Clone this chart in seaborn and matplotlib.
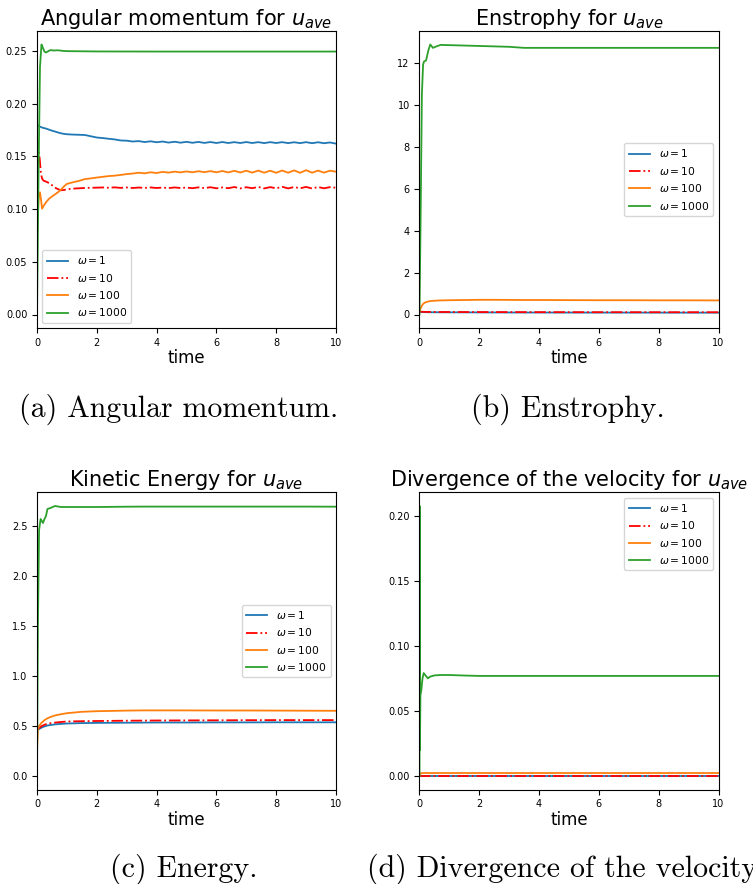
import matplotlib
matplotlib.use('Agg')
import matplotlib.pyplot as plt
import seaborn as sns

# ---- data ----
labels = [r'$\omega = 1$', r'$\omega = 10$', r'$\omega = 100$', r'$\omega = 1000$']
colors = ['tab:blue', 'red', 'tab:orange', 'tab:green']
styles = ['-', '-.', '-', '-']

# shared late time grid for the angular momentum panel
t_late = [1.0, 1.2, 1.4, 1.6, 1.8, 2.0, 2.2, 2.4, 2.6, 2.8,
          3.0, 3.2, 3.4, 3.6, 3.8, 4.0, 4.2, 4.4, 4.6, 4.8,
          5.0, 5.2, 5.4, 5.6, 5.8, 6.0, 6.2, 6.4, 6.6, 6.8,
          7.0, 7.2, 7.4, 7.6, 7.8, 8.0, 8.2, 8.4, 8.6, 8.8,
          9.0, 9.2, 9.4, 9.6, 9.8, 10.0]

# (a) angular momentum
t_a_blue = [0.0, 0.1, 0.2, 0.3, 0.4, 0.5, 0.6, 0.7, 0.8, 0.9]
am_blue = [0.1800, 0.1783, 0.1772, 0.1765, 0.1755, 0.1745, 0.1737, 0.1728, 0.1720, 0.1715,
           0.1711, 0.1708, 0.1706, 0.1704, 0.1692, 0.1680, 0.1675, 0.1668, 0.1662, 0.1652,
           0.1650, 0.1642, 0.1646, 0.1637, 0.1644, 0.1635, 0.1642, 0.1632, 0.1640, 0.1631,
           0.1639, 0.1630, 0.1638, 0.1629, 0.1637, 0.1628, 0.1637, 0.1628, 0.1636, 0.1628,
           0.1637, 0.1628, 0.1636, 0.1627, 0.1636, 0.1628, 0.1636, 0.1627, 0.1635, 0.1627,
           0.1636, 0.1626, 0.1635, 0.1626, 0.1633, 0.1622]
t_a_red = [0.0, 0.02, 0.05, 0.09, 0.13, 0.17, 0.22, 0.3, 0.4, 0.5, 0.6, 0.7, 0.8, 0.9]
am_red = [0.168, 0.164, 0.156, 0.148, 0.134, 0.129, 0.127, 0.1262, 0.1248, 0.1228,
          0.1205, 0.1190, 0.1179, 0.1182,
          0.1188, 0.1195, 0.1198, 0.1201, 0.1203, 0.1204, 0.1206, 0.1203, 0.1207, 0.1202,
          0.1206, 0.1201, 0.1205, 0.1202, 0.1206, 0.1201, 0.1205, 0.1200, 0.1206, 0.1201,
          0.1205, 0.1199, 0.1207, 0.1200, 0.1208, 0.1198, 0.1206, 0.1199, 0.1210, 0.1197,
          0.1208, 0.1199, 0.1211, 0.1197, 0.1209, 0.1198, 0.1212, 0.1197, 0.1210, 0.1198,
          0.1211, 0.1196, 0.1210, 0.1198, 0.1209, 0.1203]
t_a_orange = [0.0, 0.03, 0.06, 0.1, 0.13, 0.17, 0.22, 0.3, 0.4, 0.5, 0.6, 0.7, 0.8, 0.9]
am_orange = [0.077, 0.095, 0.112, 0.116, 0.110, 0.1005, 0.1030, 0.1065, 0.1098, 0.1120,
             0.1140, 0.1160, 0.1185, 0.1215,
             0.1240, 0.1255, 0.1268, 0.1285, 0.1292, 0.1300, 0.1307, 0.1314, 0.1318, 0.1325,
             0.1333, 0.1338, 0.1346, 0.1340, 0.1350, 0.1343, 0.1354, 0.1347, 0.1356, 0.1349,
             0.1358, 0.1350, 0.1360, 0.1351, 0.1361, 0.1350, 0.1362, 0.1349, 0.1364, 0.1348,
             0.1365, 0.1347, 0.1366, 0.1346, 0.1365, 0.1345, 0.1367, 0.1346, 0.1368, 0.1345,
             0.1370, 0.1346, 0.1366, 0.1347, 0.1365, 0.1356]
t_a_green = [0.0, 0.05, 0.1, 0.15, 0.2, 0.25, 0.3, 0.38, 0.45, 0.55, 0.7, 0.85,
             1.0, 2.0, 4.0, 6.0, 8.0, 10.0]
am_green = [0.0, 0.13, 0.235, 0.2563, 0.2530, 0.2495, 0.2487, 0.2500, 0.2510, 0.2506, 0.2508, 0.2503,
            0.2500, 0.2497, 0.2496, 0.2496, 0.2496, 0.2496]

# (b) enstrophy
t_b = [0, 0.04, 0.08, 0.12, 0.15, 0.22, 0.3, 0.36, 0.45, 0.55, 0.7, 1.0,
       1.5, 2.0, 2.5, 3.0, 3.5, 4.0, 5.0, 6.0, 7.0, 8.0, 9.0, 10.0]
ens_blue = [0.13, 0.125, 0.12, 0.115, 0.112, 0.11, 0.108, 0.107, 0.106, 0.105, 0.104, 0.103,
            0.101, 0.099, 0.097, 0.095, 0.094, 0.093, 0.092, 0.091, 0.090, 0.089, 0.088, 0.087]
ens_red = [0.14, 0.135, 0.13, 0.127, 0.125, 0.123, 0.122, 0.121, 0.12, 0.12, 0.119, 0.118,
           0.117, 0.116, 0.115, 0.114, 0.113, 0.112, 0.111, 0.110, 0.110, 0.109, 0.109, 0.108]
ens_orange = [0.15, 0.30, 0.42, 0.50, 0.54, 0.59, 0.62, 0.64, 0.65, 0.66, 0.67, 0.68,
              0.69, 0.70, 0.70, 0.695, 0.69, 0.69, 0.685, 0.68, 0.68, 0.675, 0.675, 0.67]
ens_green = [0.0, 5.0, 10.5, 11.9, 12.05, 12.1, 12.6, 12.86, 12.70, 12.76, 12.84, 12.83,
             12.81, 12.79, 12.77, 12.75, 12.70, 12.70, 12.70, 12.70, 12.70, 12.70, 12.70, 12.70]

# (c) kinetic energy
t_c = [0, 0.03, 0.07, 0.12, 0.16, 0.2, 0.25, 0.3, 0.35, 0.45, 0.6, 0.8,
       1.0, 1.5, 2.0, 3.0, 3.5, 4.0, 5.0, 6.0, 7.0, 8.0, 9.0, 10.0]
ke_blue = [0.46, 0.465, 0.47, 0.478, 0.485, 0.49, 0.496, 0.50, 0.505, 0.51, 0.516, 0.521,
           0.525, 0.529, 0.531, 0.533, 0.534, 0.535, 0.535, 0.536, 0.536, 0.537, 0.537, 0.537]
ke_red = [0.46, 0.47, 0.48, 0.49, 0.50, 0.505, 0.512, 0.518, 0.522, 0.528, 0.534, 0.540,
          0.545, 0.548, 0.550, 0.553, 0.554, 0.555, 0.556, 0.557, 0.558, 0.559, 0.559, 0.559]
ke_orange = [0.25, 0.47, 0.50, 0.52, 0.535, 0.545, 0.558, 0.568, 0.577, 0.590, 0.605, 0.618,
             0.628, 0.642, 0.648, 0.654, 0.656, 0.656, 0.656, 0.655, 0.655, 0.654, 0.653, 0.652]
ke_green = [0.0, 1.5, 2.46, 2.57, 2.55, 2.53, 2.57, 2.60, 2.67, 2.68, 2.70, 2.69,
            2.69, 2.69, 2.69, 2.693, 2.694, 2.694, 2.694, 2.694, 2.694, 2.694, 2.694, 2.693]

# (d) divergence of the velocity
t_d = [0, 0.005, 0.015, 0.03, 0.06, 0.1, 0.14, 0.2, 0.28, 0.35, 0.5, 0.7,
       1.0, 1.5, 2.0, 3.0, 4.0, 5.0, 6.0, 7.0, 8.0, 9.0, 10.0]
div_blue = [0.0, 0.0, 0.0, 0.0, 0.0, 0.0, 0.0, 0.0, 0.0, 0.0, 0.0, 0.0,
            0.0, 0.0, 0.0, 0.0, 0.0, 0.0, 0.0, 0.0, 0.0, 0.0, 0.0]
div_red = [0.0, 0.0, 0.0, 0.0, 0.0, 0.0, 0.0, 0.0, 0.0, 0.0, 0.0, 0.0,
           0.0, 0.0, 0.0, 0.0, 0.0, 0.0, 0.0, 0.0, 0.0, 0.0, 0.0]
div_orange = [0.0, 0.001, 0.0015, 0.002, 0.0022, 0.0023, 0.0023, 0.0023, 0.0023, 0.0023, 0.0023, 0.0023,
              0.0023, 0.0023, 0.0023, 0.0023, 0.0023, 0.0023, 0.0023, 0.0023, 0.0023, 0.0023, 0.0023]
div_green = [0.0, 0.208, 0.02, 0.062, 0.066, 0.075, 0.0793, 0.0775, 0.0752, 0.0765, 0.0775, 0.0778,
             0.0778, 0.0774, 0.0771, 0.0771, 0.0771, 0.0771, 0.0771, 0.0771, 0.0771, 0.0771, 0.0771]

titles = [r'Angular momentum for $u_{ave}$', r'Enstrophy for $u_{ave}$',
          r'Kinetic Energy for $u_{ave}$', r'Divergence of the velocity for $u_{ave}$']
captions = ['(a) Angular momentum.', '(b) Enstrophy.', '(c) Energy.',
            '(d) Divergence of the velocity.']


def draw(ax, series, title, legend_loc):
    for (t, y), lab, c, ls in zip(series, labels, colors, styles):
        sns.lineplot(x=t, y=y, ax=ax, color=c, linestyle=ls, linewidth=1.3, label=lab)
    ax.set_xlim(0, 10)
    ax.set_title(title, fontsize=15, pad=4)
    ax.set_xlabel('time', fontsize=12, labelpad=1)
    ax.set_ylabel('')
    ax.tick_params(labelsize=7)
    ax.legend(loc=legend_loc, fontsize=7.7)


W, H = 753, 884
fig = plt.figure(figsize=(W / 100, H / 100), dpi=100)

ax_w, ax_h = 299 / W, 297 / H
ax_a = fig.add_axes([37 / W, 1 - 328 / H, ax_w, ax_h])
ax_b = fig.add_axes([419.5 / W, 1 - 328 / H, ax_w, ax_h])
ax_c = fig.add_axes([37 / W, 1 - 789.5 / H, ax_w, ax_h])
ax_d = fig.add_axes([419.5 / W, 1 - 789.5 / H, ax_w, ax_h])

draw(ax_a, [(t_a_blue + t_late, am_blue), (t_a_red + t_late, am_red),
            (t_a_orange + t_late, am_orange), (t_a_green, am_green)],
     titles[0], 'lower left')
draw(ax_b, [(t_b, ens_blue), (t_b, ens_red), (t_b, ens_orange), (t_b, ens_green)],
     titles[1], 'center right')
draw(ax_c, [(t_c, ke_blue), (t_c, ke_red), (t_c, ke_orange), (t_c, ke_green)],
     titles[2], 'center right')
draw(ax_d, [(t_d, div_blue), (t_d, div_red), (t_d, div_orange), (t_d, div_green)],
     titles[3], 'upper right')

# sub-figure captions in a LaTeX-like serif
cap_pos = [(19, 417), (471, 417), (110, 877), (367, 877)]
for (x, y), txt in zip(cap_pos, captions):
    fig.text(x / W, 1 - y / H, txt, fontfamily='cmr10', fontsize=21.5,
             ha='left', va='baseline')

fig.savefig('out.png', dpi=100)
